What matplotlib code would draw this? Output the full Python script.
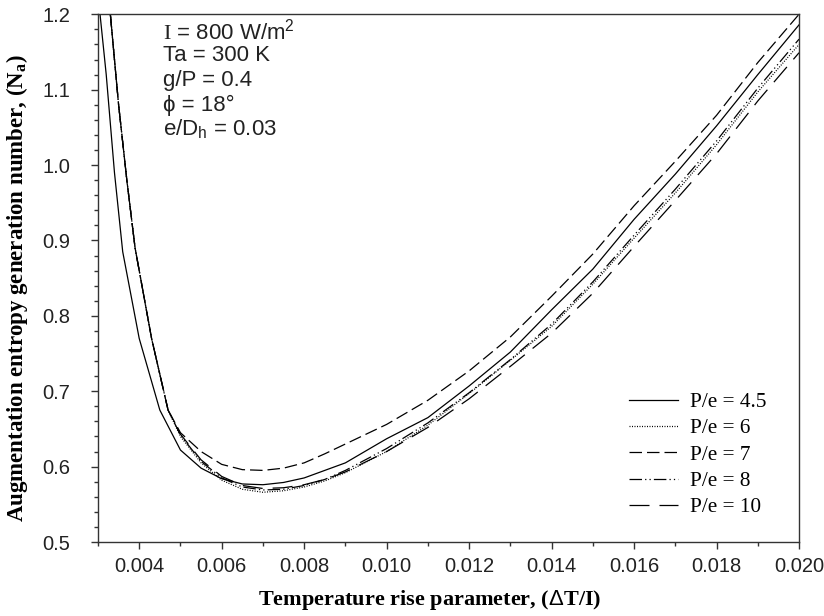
import numpy as np
import matplotlib
matplotlib.use("Agg")
import matplotlib.pyplot as plt
from matplotlib.ticker import MultipleLocator, FormatStrFormatter

plt.rcParams['mathtext.fontset'] = 'custom'
plt.rcParams['mathtext.rm'] = 'Liberation Sans'
plt.rcParams['mathtext.it'] = 'Liberation Sans:italic'
plt.rcParams['mathtext.bf'] = 'Liberation Serif:bold'
plt.rcParams['mathtext.sf'] = 'Liberation Serif'

# data
x_45 = [0.00305, 0.0032, 0.0034, 0.0036, 0.0040, 0.0045, 0.0050, 0.0055, 0.0060, 0.0065,
        0.0070, 0.0075, 0.0080, 0.0090, 0.0100, 0.0110, 0.0120, 0.0130, 0.0140, 0.0150,
        0.0160, 0.0170, 0.0180, 0.0190, 0.0200]
y_45 = [1.20, 1.12, 0.99, 0.885, 0.77, 0.675, 0.622, 0.598, 0.584, 0.577,
        0.576, 0.579, 0.585, 0.605, 0.637, 0.665, 0.707, 0.752, 0.808, 0.862,
        0.928, 0.988, 1.052, 1.120, 1.186]

x_grp = [0.0033, 0.0035, 0.0037, 0.0039, 0.0043, 0.0047, 0.0050, 0.0055, 0.0060, 0.0065,
         0.0070, 0.0075, 0.0080, 0.0085, 0.0090, 0.0100, 0.0110, 0.0120, 0.0130, 0.0140,
         0.0150, 0.0160, 0.0170, 0.0180, 0.0190, 0.0200]

y_6 = [1.20, 1.08, 0.98, 0.89, 0.77, 0.675, 0.640, 0.605, 0.582, 0.570,
       0.566, 0.568, 0.573, 0.581, 0.592, 0.620, 0.655, 0.697, 0.741, 0.786,
       0.842, 0.903, 0.963, 1.027, 1.097, 1.160]
y_7 = [1.20, 1.08, 0.98, 0.89, 0.77, 0.675, 0.645, 0.620, 0.603, 0.596,
       0.595, 0.598, 0.605, 0.617, 0.630, 0.656, 0.688, 0.727, 0.772, 0.826,
       0.882, 0.946, 1.005, 1.066, 1.136, 1.200]
y_8 = [1.20, 1.08, 0.98, 0.89, 0.77, 0.675, 0.642, 0.607, 0.585, 0.573,
       0.569, 0.570, 0.575, 0.583, 0.595, 0.624, 0.658, 0.698, 0.742, 0.789,
       0.845, 0.907, 0.968, 1.032, 1.102, 1.167]
y_10 = [1.20, 1.08, 0.98, 0.89, 0.77, 0.675, 0.643, 0.609, 0.587, 0.575,
        0.571, 0.572, 0.576, 0.583, 0.593, 0.620, 0.652, 0.690, 0.733, 0.777,
        0.830, 0.892, 0.953, 1.015, 1.085, 1.149]

labels = ["P/e = 4.5", "P/e = 6", "P/e = 7", "P/e = 8", "P/e = 10"]

fig = plt.figure(figsize=(8.24, 6.16), dpi=100)
ax = fig.add_axes([0.1189, 0.1201, 0.8508, 0.8567])

lw = 0.9
ax.plot(x_45, y_45, color='k', lw=lw, ls='-', label=labels[0])
ax.plot(x_grp, y_6, color='k', lw=lw, ls=(0, (0.8, 1.2)), label=labels[1])
ax.plot(x_grp, y_7, color='k', lw=lw, ls=(0, (10, 4)), label=labels[2])
ax.plot(x_grp, y_8, color='k', lw=lw, ls=(0, (10, 2.5, 1, 2.5, 1, 2.5)), label=labels[3])
ax.plot(x_grp, y_10, color='k', lw=lw, ls=(0, (16, 8)), label=labels[4])

ax.set_xlim(0.003, 0.020)
ax.set_ylim(0.5, 1.2)
ax.xaxis.set_major_locator(MultipleLocator(0.002))
ax.xaxis.set_minor_locator(MultipleLocator(0.001))
ax.yaxis.set_major_locator(MultipleLocator(0.1))
ax.yaxis.set_minor_locator(MultipleLocator(0.02))
ax.xaxis.set_major_formatter(FormatStrFormatter('%.3f'))
ax.yaxis.set_major_formatter(FormatStrFormatter('%.1f'))

ax.tick_params(which='both', direction='out', colors='#333333', labelcolor='#222222')
ax.tick_params(which='major', length=5, width=1)
ax.tick_params(which='minor', length=3, width=1)
ax.tick_params(axis='x', pad=6)
ax.tick_params(axis='y', pad=15)
for lab in ax.get_xticklabels() + ax.get_yticklabels():
    lab.set_fontfamily('Liberation Sans')
    lab.set_fontsize(14.5)
for sp in ax.spines.values():
    sp.set_color('#333333')
    sp.set_linewidth(1)

ax.set_xlabel(r"Temperature rise parameter, ($\Delta$T/I)", family='Liberation Serif',
              fontweight='bold', fontsize=16)
ax.set_ylabel(r"Augmentation entropy generation number, (N$_\mathbf{a}$)",
              family='Liberation Serif', fontweight='bold', fontsize=16.5)
ax.xaxis.set_label_coords(0.4736, -0.087)
ax.yaxis.set_label_coords(-0.097, 0.482)

note = [r"$\mathsf{I}$ = 800 W/m$^\mathrm{2}$", "Ta = 300 K", "g/P = 0.4",
        "\u03d5 = 18\u00b0", r"e/D$_\mathrm{h}$ = 0.03"]
for i, t in enumerate(note):
    ax.text(0.093, 0.968 - i * 0.0466, t, transform=ax.transAxes, fontsize=16,
            family=['Liberation Sans', 'DejaVu Sans'], color='#222222', va='center')

leg = ax.legend(loc='lower left', frameon=False, prop={'family': 'Liberation Serif', 'size': 15.3},
                handlelength=2.3, labelspacing=0.3, handletextpad=0.56,
                borderpad=0, borderaxespad=0, bbox_to_anchor=(0.7575, 0.047))

fig.savefig("out.png", dpi=100)
